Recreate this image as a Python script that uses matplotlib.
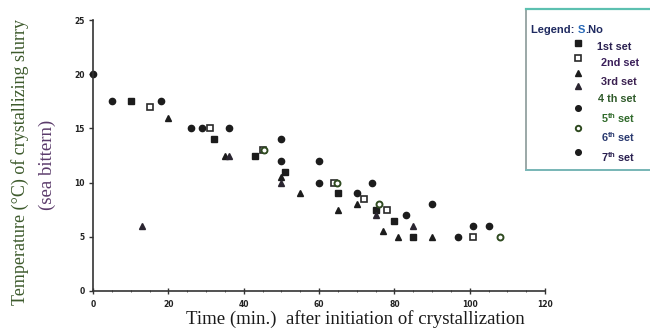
import matplotlib
matplotlib.use("Agg")
import matplotlib.pyplot as plt
from matplotlib.patches import Rectangle

# ---- data (time in min, temperature in °C) ----
set1_t = [10, 32, 43, 51, 65, 75, 80, 85]
set1_T = [17.5, 14, 12.5, 11, 9, 7.5, 6.5, 5]
set2_t = [15, 31, 45, 64, 72, 78, 101]
set2_T = [17, 15, 13, 10, 8.5, 7.5, 5]
set3_t = [20, 35, 50, 55, 65, 70, 77, 81, 90]
set3_T = [16, 12.5, 10.5, 9, 7.5, 8, 5.5, 5, 5]
set4_t = [13, 36, 50, 75, 85]
set4_T = [6, 12.5, 10, 7, 6]
set5_t = [5, 26, 50, 60, 70, 83, 97]
set5_T = [17.5, 15, 12, 10, 9, 7, 5]
set6_t = [45.5, 64.8, 76, 108]
set6_T = [13, 10, 8, 5]
set7_t = [0, 18, 29, 36, 50, 60, 74, 90, 101, 105]
set7_T = [20, 17.5, 15, 15, 14, 12, 10, 8, 6, 6]

x_ticks = [0, 20, 40, 60, 80, 100, 120]
y_ticks = [0, 5, 10, 15, 20, 25]
legend_labels = ["1st set", "2nd set", "3rd set", "4 th set",
                 r"5$^{\mathregular{th}}$ set", r"6$^{\mathregular{th}}$ set",
                 r"7$^{\mathregular{th}}$ set"]

fig = plt.figure(figsize=(6.5, 3.3), dpi=100)
ax = fig.add_axes([93/650, 1-291/330, (545-93)/650, (291-20)/330])

dark = "#1c1c1c"
styles = [
    dict(marker="s", ms=4.3, mfc=dark, mec=dark),
    dict(marker="s", ms=4.3, mfc="white", mec="#2a2a2a", mew=1.2),
    dict(marker="^", ms=4.8, mfc=dark, mec=dark),
    dict(marker="^", ms=4.8, mfc="#2a2530", mec="#2a2530"),
    dict(marker="o", ms=4.5, mfc=dark, mec=dark),
    dict(marker="o", ms=4.3, mfc="white", mec="#2f4a20", mew=1.4),
    dict(marker="o", ms=4.5, mfc=dark, mec=dark),
]
series = [(set1_t, set1_T), (set2_t, set2_T), (set3_t, set3_T), (set4_t, set4_T),
          (set5_t, set5_T), (set6_t, set6_T), (set7_t, set7_T)]
for (t, T), st in zip(series, styles):
    ax.plot(t, T, linestyle="none", clip_on=False, **st)

ax.set_xlim(0, 120)
ax.set_ylim(0, 25)
ax.set_xticks(x_ticks)
ax.set_yticks(y_ticks)
ax.set_xticks(range(0, 121, 5), minor=True)
for s in ["top", "right"]:
    ax.spines[s].set_visible(False)
for s in ["left", "bottom"]:
    ax.spines[s].set_color("#333333")
    ax.spines[s].set_linewidth(1.2)
ax.tick_params(axis="x", which="major", direction="inout", length=5, width=1,
               labelsize=5.5, pad=4, colors="#333333", labelcolor="#222222")
ax.tick_params(axis="x", which="minor", direction="inout", length=2, width=0.7,
               colors="#555555")
ax.tick_params(axis="y", which="major", direction="out", length=3, width=1,
               labelsize=5.5, pad=3, colors="#333333", labelcolor="#222222")
for lbl in ax.get_xticklabels() + ax.get_yticklabels():
    lbl.set_fontweight("bold")

fig.text(355/650, 1.5/330, "Time (min.)  after initiation of crystallization",
         family="Liberation Serif", fontsize=13.5, color="#1a1a1a",
         ha="center", va="bottom")
fig.text(20/650, 1-162/330, "Temperature (°C) of crystallizing slurry",
         family="Liberation Serif", fontsize=13, color="#3d5a2c",
         rotation=90, ha="center", va="center")
fig.text(47/650, 1-165/330, "(sea bittern)",
         family="Liberation Serif", fontsize=13.5, color="#5a3a6a",
         rotation=90, ha="center", va="center")

# ---- legend box ----
lax = fig.add_axes([0, 0, 1, 1], facecolor="none")
lax.set_xlim(0, 650)
lax.set_ylim(330, 0)
lax.axis("off")
lax.add_patch(Rectangle((526, 9), 130, 161, fill=False, edgecolor="#8a9a98",
                        linewidth=1.2))
lax.plot([526, 650], [9, 9], color="#5cc0b0", lw=1.6)
lax.plot([526, 650], [170, 170], color="#7ab8b8", lw=1.4)
t1 = lax.text(531, 30, "Legend: ", fontsize=8, fontweight="bold", color="#1f2a60",
              va="center", ha="left", family="Liberation Sans")
t2 = lax.annotate("S", xy=(1, 0.5), xycoords=t1, fontsize=8, fontweight="bold",
                  color="#2a6ab8", va="center", ha="left", family="Liberation Sans")
lax.annotate(".No", xy=(1, 0.5), xycoords=t2, fontsize=8, fontweight="bold",
             color="#1f2a60", va="center", ha="left", family="Liberation Sans")
marker_y = [43, 58, 73, 86, 108, 128, 152]
label_y = [47, 63, 82, 99, 118, 137, 157]
label_x = [597, 601, 601, 598, 601, 601, 601]
label_col = ["#2a2050", "#3a1f5a", "#3a2050", "#2f5a2a", "#2f6a2a", "#2a3a70", "#2a2050"]
for st, my, ly, lx, lab, c in zip(styles, marker_y, label_y, label_x,
                                  legend_labels, label_col):
    st2 = dict(st)
    st2["ms"] = st2["ms"] * 0.9
    lax.plot([578], [my], linestyle="none", **st2)
    lax.text(lx, ly, lab, fontsize=7.8, fontweight="bold", color=c,
             va="center", ha="left", family="Liberation Sans")

fig.savefig("out.png", dpi=100)
